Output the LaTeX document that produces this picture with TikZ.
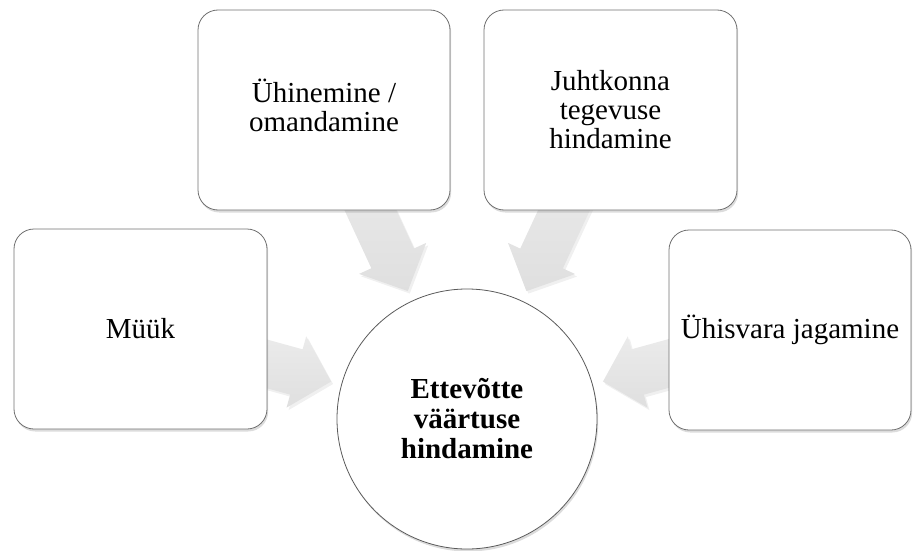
\documentclass[tikz,border=0pt]{standalone}
\usepackage{fontspec}
\setmainfont{Liberation Serif}
\usetikzlibrary{calc,shadows}
\pgfdeclarelayer{bg}
\pgfsetlayers{bg,main}
\definecolor{boxline}{RGB}{112,112,112}
\tikzset{
  box/.style={draw=boxline, line width=0.8pt, fill=white, rounded corners=20pt,
    minimum height=200pt, inner sep=0pt, align=center,
    font=\fontsize{29}{29}\selectfont,
    drop shadow={shadow xshift=1.2pt, shadow yshift=-2.5pt, opacity=0.28}},
  hub/.style={circle, draw=boxline!80!black, line width=0.8pt, fill=white,
    minimum size=260pt, inner sep=0pt, align=center,
    font=\fontsize{29}{30}\selectfont\bfseries,
    drop shadow={shadow xshift=1.2pt, shadow yshift=-2.5pt, opacity=0.28}},
  convarrow/.style={top color=gray!12, bottom color=gray!25, draw=none,
    drop shadow={shadow xshift=2pt, shadow yshift=-2.5pt, opacity=0.12}}
}
% #1 source node, #2 target node, #3 suffix
\newcommand{\convergearrow}[3]{%
  \coordinate (tip#3) at ($(#2.center)!141pt!(#1.center)$);
  \coordinate (hb#3) at ($(#2.center)!177pt!(#1.center)$);
  \coordinate (sp#3) at ($(hb#3)!23.5pt!90:(#1.center)$);
  \coordinate (sm#3) at ($(hb#3)!23.5pt!-90:(#1.center)$);
  \coordinate (vp#3) at ($(hb#3)!37pt!90:(#1.center)$);
  \coordinate (vm#3) at ($(hb#3)!37pt!-90:(#1.center)$);
  \coordinate (tp#3) at ($(#1.center)!23.5pt!-90:(#2.center)$);
  \coordinate (tm#3) at ($(#1.center)!23.5pt!90:(#2.center)$);
  \begin{pgfonlayer}{bg}
    \path[convarrow] (tp#3) -- (sp#3) -- (vp#3) -- (tip#3) -- (vm#3) -- (sm#3) -- (tm#3) -- cycle;
  \end{pgfonlayer}
}
\begin{document}
\begin{tikzpicture}[x=1pt,y=-1pt]
  \useasboundingbox (0,0) rectangle (913,551);
  \node[box, minimum width=253pt] (muk) at (140.5,329) {Müük};
  \node[box, minimum width=252pt] (uhin) at (324,110) {\strut Ühinemine /\\omandamine\strut};
  \node[box, minimum width=253pt] (juht) at (610.5,110) {Juhtkonna\\tegevuse\\hindamine};
  \node[box, minimum width=242pt] (uhis) at (790,330) {Ühisvara jagamine};
  \node[hub] (hub) at (467,419) {Ettevõtte\\väärtuse\\hindamine};
  \convergearrow{muk}{hub}{a}
  \convergearrow{uhin}{hub}{b}
  \convergearrow{juht}{hub}{c}
  \convergearrow{uhis}{hub}{d}
\end{tikzpicture}
\end{document}
